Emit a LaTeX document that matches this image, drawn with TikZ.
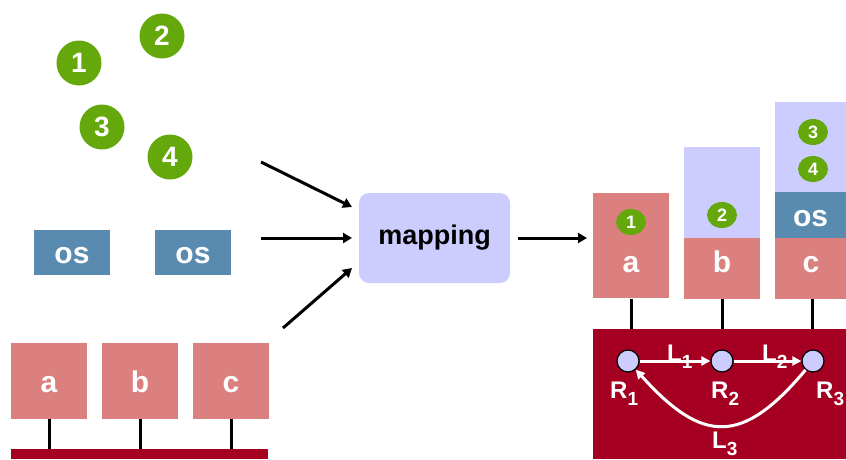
\documentclass[tikz,border=0pt]{standalone}
\usepackage{fontspec}
\setmainfont{Liberation Sans}
\usetikzlibrary{arrows.meta,shapes.geometric}
\definecolor{tokgreen}{RGB}{101,168,12}
\definecolor{nodesalmon}{RGB}{219,127,127}
\definecolor{netred}{RGB}{165,0,33}
\definecolor{lav}{RGB}{204,204,255}
\definecolor{osblue}{RGB}{88,139,175}
% large lowered index used for router and link names
\newcommand{\idx}[1]{\raisebox{-7pt}{\fontsize{19}{19}\selectfont #1}}
\tikzset{
  big/.style={circle, fill=tokgreen, minimum size=45pt, inner sep=0pt,
    text=white, font=\bfseries\fontsize{28}{28}\selectfont},
  small/.style={ellipse, fill=tokgreen, minimum width=30pt, minimum height=26pt, inner sep=0pt,
    text=white, font=\bfseries\fontsize{18}{18}\selectfont},
  region/.style={inner sep=0pt, outer sep=0pt, anchor=north west},
  boxtext/.style={text=white, text height=22pt, text depth=0pt,
    font=\bfseries\fontsize{30}{30}\selectfont},
  netlabel/.style={text=white, anchor=base west, inner sep=0pt, font=\bfseries\fontsize{24}{24}\selectfont},
  stem/.style={line width=3pt, black},
  arr/.style={line width=3pt, -{Triangle[length=9pt,width=10pt]}},
  link/.style={line width=3pt, white, -{Triangle[length=9pt,width=9pt]}},
  router/.style={circle, draw=black, line width=1.2pt, fill=lav, minimum size=22pt, inner sep=0pt},
}
\begin{document}
\begin{tikzpicture}[x=1pt, y=-1pt]
\useasboundingbox (0,0) rectangle (846,459);

% unplaced tasks
\node[big] (t1) at (79,63) {1};
\node[big] (t2) at (162,36) {2};
\node[big] (t3) at (102,127) {3};
\node[big] (t4) at (170,157) {4};

% unplaced operating systems
\node[region, fill=osblue, minimum width=76pt, minimum height=45pt, boxtext] (os1) at (34,230) {os};
\node[region, fill=osblue, minimum width=76pt, minimum height=45pt, boxtext] (os2) at (155,230) {os};

% physical hosts on a bus
\node[region, fill=nodesalmon, minimum width=76pt, minimum height=76pt, boxtext] (ha) at (11,343) {a};
\node[region, fill=nodesalmon, minimum width=76pt, minimum height=76pt, boxtext] (hb) at (102,343) {b};
\node[region, fill=nodesalmon, minimum width=76pt, minimum height=76pt, boxtext] (hc) at (193,343) {c};
\node[region, fill=netred, minimum width=257pt, minimum height=10pt] (bus) at (11,449) {};
\foreach \h in {ha,hb,hc}
  \draw[stem] (\h.south) -- (\h.south |- bus.north);

% mapping step
\node[fill=lav, rounded corners=10pt, minimum width=151pt, minimum height=90pt,
  font=\bfseries\fontsize{27}{27}\selectfont] (map) at (434.5,238) {mapping};
\coordinate (s1) at (261,162); \coordinate (e1) at (352,207);
\coordinate (s2) at (261,238); \coordinate (e2) at (352,238);
\coordinate (s3) at (283,328); \coordinate (e3) at (352,268);
\draw[arr] (s1) -- (e1);
\draw[arr] (s2) -- (e2);
\draw[arr] (s3) -- (e3);

% mapped result
\node[region, fill=nodesalmon, minimum width=76pt, minimum height=105pt] (ra) at (593,193) {};
\node[region, fill=lav, minimum width=76pt, minimum height=91pt] (rbfree) at (684,147) {};
\node[region, fill=nodesalmon, minimum width=76pt, minimum height=61pt] (rb) at (684,238) {};
\node[region, fill=lav, minimum width=71pt, minimum height=90pt] (rcfree) at (775,102) {};
\node[region, fill=osblue, minimum width=71pt, minimum height=46pt, boxtext] (rcos) at (775,192) {os};
\node[region, fill=nodesalmon, minimum width=71pt, minimum height=61pt] (rc) at (775,238) {};
\node[boxtext] (la) at (631,261) {a};
\node[boxtext] (lb) at (722,261) {b};
\node[boxtext] (lc) at (811,261) {c};
\node[small] (m1) at (631,222) {1};
\node[small] (m2) at (722,215) {2};
\node[small] (m3) at (813,132) {3};
\node[small] (m4) at (813,169) {4};
\draw[arr, shorten <=8pt, shorten >=6pt] (map.east) -- (map.east -| ra.west);

% network of routers
\node[region, fill=netred, minimum width=253pt, minimum height=130pt] (net) at (593,329) {};
\draw[stem] (631,299) coordinate (ca) -- (ca |- net.north);
\draw[stem] (722,299) coordinate (cb) -- (cb |- net.north);
\draw[stem] (812,299) coordinate (cc) -- (cc |- net.north);
\node[router] (r1) at (628,361) {};
\node[router] (r2) at (722,361) {};
\node[router] (r3) at (813,361) {};
\draw[link] (r1) -- (r2);
\draw[link] (r2) -- (r3);
\draw[link] (r3) to[out=-130, in=-48, looseness=1.5] (r1);
\node[netlabel] (nr1) at (610,398) {R\idx{1}};
\node[netlabel] (nr2) at (711,398) {R\idx{2}};
\node[netlabel] (nr3) at (816,398) {R\idx{3}};
\node[netlabel] (nl1) at (667,361) {L\idx{1}};
\node[netlabel] (nl2) at (762,361) {L\idx{2}};
\node[netlabel] (nl3) at (712,448) {L\idx{3}};
\end{tikzpicture}
\end{document}
